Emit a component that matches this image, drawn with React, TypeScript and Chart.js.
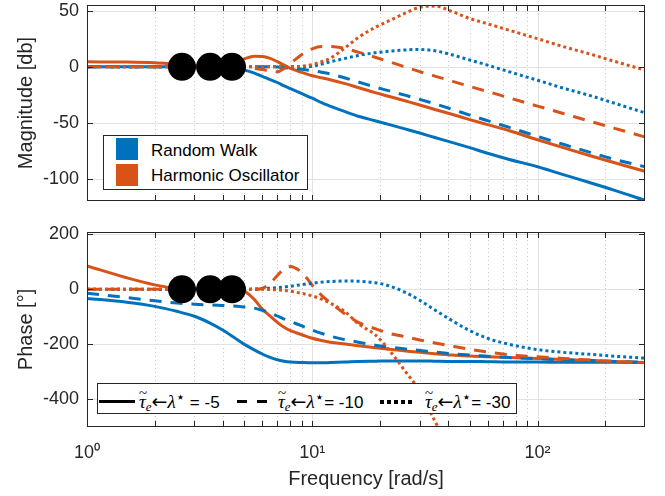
import React, { useEffect, useRef } from "react";
import { Chart, registerables } from "chart.js";

Chart.register(...registerables);

const BLUE = "#0072BD";
const ORANGE = "#D95319";
const AXIS = "#262626";
const FONT = "'Liberation Sans', Arial, Helvetica, sans-serif";

// shared frequency grid [rad/s]
const FREQ = [1, 1.5, 2, 2.5, 3, 3.5, 4, 4.5, 5, 5.5, 6, 6.5, 7, 7.5, 8, 9, 10, 11, 12, 14, 16, 19, 22, 26, 30, 35, 42, 50, 60, 75, 100, 130, 170, 220, 300];

// Magnitude [dB]
const MAG_RW_5 = [0, 0, 0, 0, -0.2, -0.5, -1, -1.8, -3, -5.5, -8.5, -11.5, -14, -17, -19.5, -24, -28, -32, -35, -40, -44, -48, -51.5, -55.5, -59, -63, -67.5, -72, -77, -82.5, -89, -96, -103, -110, -119];
const MAG_HO_5 = [4.4, 4.2, 3.5, 2.2, 1.2, 0.8, 1.5, 4, 7, 9.3, 9.2, 7.5, 4.5, 1.5, -1.5, -5, -8, -9.8, -11.5, -15, -18.5, -23, -26.5, -30.5, -34, -38, -42.5, -47, -51.5, -57, -65, -72, -79, -85.5, -93];
const MAG_RW_10 = [0, 0, 0, 0, 0, 0, 0, 0, 0, 0, 0, 0, -0.3, -0.8, -1.3, -2.3, -3.5, -4.8, -6.3, -10, -13.5, -18, -21.5, -25.5, -29, -33, -38, -43, -48, -54, -62, -69, -76, -82.5, -89];
const MAG_HO_10 = [0, 0, 0, 0, 0, 0, 0, -0.2, -0.8, -1.5, -2.5, -3.6, -4.5, -1.5, 3, 11, 16, 18, 18, 16.3, 13, 8.5, 4.4, -0.3, -4.3, -8.3, -13, -17.5, -22, -27.7, -35, -41.6, -48.4, -54.8, -62.5];
const MAG_RW_30 = [0, 0, 0, 0, 0, 0, 0, 0, 0, 0, 0, 0, 0, 0, 0, 0, 0.5, 2.5, 4.4, 7.5, 10, 12.5, 13.8, 15, 15.4, 14.2, 10.5, 6, 1.5, -4.5, -12, -19, -25.5, -32.5, -41];
const MAG_HO_30 = [0, 0, 0, 0, 0, 0, 0, 0, 0, 0, 0, 0, 0, 0, 0, 0.5, 2, 4.5, 7.5, 17, 26, 35, 41, 48, 53, 54, 49, 43, 38.3, 32.5, 25, 18, 11.5, 4.8, -3];

// Phase [deg]
const PH_RW_5 = [-33, -47, -62, -80, -98, -122, -148, -175, -200, -219, -235, -247, -256, -261, -264, -266, -267, -267, -266, -264, -262, -261, -260, -260, -260, -261, -262, -262, -263, -264, -264, -265, -265, -265, -266];
const PH_HO_5 = [85, 42, 16, 3, 0, -2, -3, -4, -8, -35, -72, -97, -120, -138, -150, -165, -178, -186, -192, -199, -205, -212, -218, -224, -229, -234, -239, -242, -245, -248, -251, -255, -258, -262, -266];
const PH_RW_10 = [-14, -30, -42, -50, -54, -57, -59, -61, -64, -68, -76, -85, -97, -108, -117, -133, -148, -160, -170, -183, -192, -203, -210, -217, -222, -228, -234, -239, -243, -248, -252, -256, -259, -262, -265];
const PH_HO_10 = [0, 0, 0, 0, 0, 0, 0, 0, 0, 0, 3, 22, 50, 74, 83, 60, 15, -22, -48, -90, -120, -143, -160, -173, -184, -195, -207, -218, -228, -238, -245, -251, -257, -262, -266];
const PH_RW_30 = [0, 0, 0, 0, 0, 0, 0, 0, 0, 1, 2, 4, 6, 8, 11, 17, 22, 26, 28, 30, 29, 24, 12, -12, -40, -75, -115, -150, -178, -200, -219, -229, -236, -243, -250];
const PH_HO_30 = [0, 0, 0, 0, 0, 0, 0, 0, 0, 0, 0, -1, -2, -4, -7, -15, -24, -36, -50, -82, -125, -165, -222, -300, -370, -478, -600, null, null, null, null, null, null, null, null];

// black markers
const MARKER_FREQ = [2.64, 3.52, 4.4];
const MARKER_VAL = [0, 0, 0];

// axes ticks
const MAG_TICKS = [-100, -50, 0, 50];
const PHASE_TICKS = [-400, -200, 0, 200];
const FREQ_MAJOR = [1, 10, 100];
const FREQ_MINOR = [2, 3, 4, 5, 6, 7, 8, 9, 20, 30, 40, 50, 60, 70, 80, 90, 200];
const SUP = ["\u2070", "\u00B9", "\u00B2", "\u00B3"];

const SOLID: number[] = [];
const DASH = [12, 9];
const DOT = [3, 3];

type Series = { label: string; values: (number | null)[]; color: string; dash: number[] };

const MAG_SERIES: Series[] = [
  { label: "HO -30", values: MAG_HO_30, color: ORANGE, dash: DOT },
  { label: "RW -30", values: MAG_RW_30, color: BLUE, dash: DOT },
  { label: "HO -10", values: MAG_HO_10, color: ORANGE, dash: DASH },
  { label: "RW -10", values: MAG_RW_10, color: BLUE, dash: DASH },
  { label: "HO -5", values: MAG_HO_5, color: ORANGE, dash: SOLID },
  { label: "RW -5", values: MAG_RW_5, color: BLUE, dash: SOLID },
];
const PH_SERIES: Series[] = [
  { label: "HO -30", values: PH_HO_30, color: ORANGE, dash: DOT },
  { label: "RW -30", values: PH_RW_30, color: BLUE, dash: DOT },
  { label: "HO -10", values: PH_HO_10, color: ORANGE, dash: DASH },
  { label: "RW -10", values: PH_RW_10, color: BLUE, dash: DASH },
  { label: "HO -5", values: PH_HO_5, color: ORANGE, dash: SOLID },
  { label: "RW -5", values: PH_RW_5, color: BLUE, dash: SOLID },
];

const TICK_LEN = 5.5;

const bodeFrame = {
  id: "bodeFrame",
  beforeDatasetsDraw(chart: any) {
    const { ctx, chartArea: a } = chart;
    const xs = chart.scales.x;
    const ys = chart.scales.y;
    ctx.save();
    ctx.lineWidth = 1;
    ctx.strokeStyle = "#c6c6c6";
    ctx.setLineDash([1, 3]);
    for (const v of FREQ_MINOR) {
      const px = Math.round(xs.getPixelForValue(v)) + 0.5;
      ctx.beginPath();
      ctx.moveTo(px, a.top);
      ctx.lineTo(px, a.bottom);
      ctx.stroke();
    }
    ctx.setLineDash([]);
    ctx.strokeStyle = "#e2e2e2";
    for (const v of FREQ_MAJOR) {
      const px = Math.round(xs.getPixelForValue(v)) + 0.5;
      ctx.beginPath();
      ctx.moveTo(px, a.top);
      ctx.lineTo(px, a.bottom);
      ctx.stroke();
    }
    for (const t of ys.ticks) {
      const py = Math.round(ys.getPixelForValue(t.value)) + 0.5;
      ctx.beginPath();
      ctx.moveTo(a.left, py);
      ctx.lineTo(a.right, py);
      ctx.stroke();
    }
    ctx.restore();
  },
  afterDatasetsDraw(chart: any) {
    const { ctx, chartArea: a } = chart;
    const xs = chart.scales.x;
    const ys = chart.scales.y;
    const l = Math.round(a.left) + 0.5;
    const r = Math.round(a.right) - 0.5;
    const t = Math.round(a.top) + 0.5;
    const b = Math.round(a.bottom) - 0.5;
    ctx.save();
    ctx.strokeStyle = AXIS;
    ctx.lineWidth = 1;
    ctx.setLineDash([]);
    ctx.beginPath();
    for (const v of [...FREQ_MAJOR, ...FREQ_MINOR]) {
      const px = Math.round(xs.getPixelForValue(v)) + 0.5;
      ctx.moveTo(px, b);
      ctx.lineTo(px, b - TICK_LEN);
      ctx.moveTo(px, t);
      ctx.lineTo(px, t + TICK_LEN);
    }
    for (const tk of ys.ticks) {
      const py = Math.round(ys.getPixelForValue(tk.value)) + 0.5;
      ctx.moveTo(l, py);
      ctx.lineTo(l + TICK_LEN, py);
      ctx.moveTo(r, py);
      ctx.lineTo(r - TICK_LEN, py);
    }
    ctx.stroke();
    ctx.strokeRect(l, t, r - l, b - t);
    ctx.restore();
  },
};

function makeConfig(series: Series[], yMin: number, yMax: number, yTicks: number[], yTitle: string, bottom: boolean): any {
  const datasets: any[] = [
    {
      label: "markers",
      data: MARKER_FREQ.map((f, i) => ({ x: f, y: MARKER_VAL[i] })),
      showLine: false,
      pointRadius: 14,
      pointHoverRadius: 14,
      pointBackgroundColor: "#000000",
      pointBorderColor: "#000000",
      pointBorderWidth: 0,
      borderColor: "#000000",
      backgroundColor: "#000000",
    },
    ...series.map((s) => ({
      label: s.label,
      data: FREQ.map((f, i) => ({ x: f, y: s.values[i] })),
      borderColor: s.color,
      backgroundColor: s.color,
      borderWidth: 3,
      borderDash: s.dash,
      borderCapStyle: "butt",
      borderJoinStyle: "round",
      pointRadius: 0,
      pointHoverRadius: 0,
      fill: false,
      cubicInterpolationMode: "monotone",
      spanGaps: false,
    })),
  ];
  return {
    type: "line",
    data: { datasets },
    options: {
      responsive: false,
      animation: false,
      events: [],
      layout: { autoPadding: false, padding: { left: 0, right: 20, top: bottom ? 18 : 5, bottom: 0 } },
      plugins: { legend: { display: false }, tooltip: { enabled: false } },
      scales: {
        x: {
          type: "logarithmic",
          min: 1,
          max: 300,
          afterBuildTicks: (s: any) => {
            s.ticks = FREQ_MAJOR.map((v) => ({ value: v }));
          },
          afterFit: (s: any) => {
            s.height = bottom ? 69 : 13;
            s.paddingLeft = 0;
            s.paddingRight = 0;
            s.paddingTop = 0;
            s.paddingBottom = 0;
          },
          grid: { display: false, drawTicks: false },
          border: { display: false },
          ticks: {
            display: bottom,
            autoSkip: false,
            maxRotation: 0,
            padding: 15,
            color: AXIS,
            font: { size: 18, family: FONT },
            callback: (v: any) => "10" + SUP[Math.round(Math.log10(Number(v)))],
          },
          title: {
            display: bottom,
            text: "Frequency [rad/s]",
            color: AXIS,
            font: { size: 20, family: FONT },
            padding: { top: 0, bottom: 4.5 },
          },
        },
        y: {
          type: "linear",
          min: yMin,
          max: yMax,
          afterBuildTicks: (s: any) => {
            s.ticks = yTicks.map((v) => ({ value: v }));
          },
          afterFit: (s: any) => {
            s.width = 87;
            s.paddingTop = 0;
            s.paddingBottom = 0;
            s.paddingLeft = 0;
            s.paddingRight = 0;
          },
          grid: { display: false, drawTicks: false },
          border: { display: false },
          ticks: { padding: 8, color: AXIS, font: { size: 18, family: FONT } },
          title: {
            display: true,
            text: yTitle,
            color: AXIS,
            font: { size: 20, family: FONT },
            padding: { top: 14.5, bottom: 0 },
          },
        },
      },
    },
    plugins: [bodeFrame],
  };
}

const serif = "'Liberation Serif', 'DejaVu Serif', serif";

function MathLabel({ rest }: { rest: string }) {
  return (
    <span style={{ whiteSpace: "nowrap" }}>
      <span style={{ position: "relative", fontFamily: serif, fontStyle: "italic", fontSize: 19 }}>
        {"\u03C4"}
        <span style={{ position: "absolute", left: 0, top: -7, fontSize: 15, fontStyle: "normal" }}>~</span>
      </span>
      <span style={{ fontFamily: serif, fontStyle: "italic", fontSize: 13, position: "relative", top: 3 }}>e</span>
      <span style={{ fontFamily: "'DejaVu Sans', sans-serif", fontSize: 19 }}>{"\u2190"}</span>
      <span style={{ fontFamily: serif, fontStyle: "italic", fontSize: 19 }}>{"\u03BB"}</span>
      <span style={{ fontFamily: "'DejaVu Sans', sans-serif", fontSize: 15, position: "relative", top: -6 }}>{"\u22C6"}</span>
      <span style={{ fontFamily: FONT, fontSize: 17 }}>{rest}</span>
    </span>
  );
}

export default function App() {
  const magRef = useRef<HTMLCanvasElement>(null);
  const phRef = useRef<HTMLCanvasElement>(null);

  useEffect(() => {
    Chart.defaults.font.family = FONT;
    Chart.defaults.color = AXIS;
    const c1 = new Chart(magRef.current as HTMLCanvasElement, makeConfig(MAG_SERIES, -119.5, 55, MAG_TICKS, "Magnitude [db]", false));
    const c2 = new Chart(phRef.current as HTMLCanvasElement, makeConfig(PH_SERIES, -500, 208, PHASE_TICKS, "Phase [\u00B0]", true));
    return () => {
      c1.destroy();
      c2.destroy();
    };
  }, []);

  const legendText: React.CSSProperties = { position: "absolute", fontFamily: FONT, fontSize: 17, lineHeight: "19px", color: "#000", whiteSpace: "nowrap" };

  return (
    <div style={{ position: "fixed", left: 0, top: 0, width: 665, height: 496, background: "#fff", overflow: "hidden" }}>
      <canvas ref={magRef} width={665} height={214} style={{ position: "absolute", left: 0, top: 0, width: 665, height: 214 }} />
      <canvas ref={phRef} width={665} height={282} style={{ position: "absolute", left: 0, top: 214, width: 665, height: 282 }} />

      <div style={{ position: "absolute", left: 103, top: 135, width: 205, height: 55, boxSizing: "border-box", border: `1px solid ${AXIS}`, background: "#fff" }}>
        <div style={{ position: "absolute", left: 12, top: 2, width: 22, height: 22, background: BLUE }} />
        <div style={{ position: "absolute", left: 12, top: 28, width: 22, height: 22, background: ORANGE }} />
        <div style={{ ...legendText, left: 47, top: 5 }}>Random Walk</div>
        <div style={{ ...legendText, left: 47, top: 30 }}>Harmonic Oscillator</div>
      </div>

      <div style={{ position: "absolute", left: 97, top: 383, width: 420, height: 31, boxSizing: "border-box", border: `1px solid ${AXIS}`, background: "#fff" }}>
        <div style={{ position: "absolute", left: 1, top: 16, width: 36, height: 3, background: "#000" }} />
        <div style={{ ...legendText, left: 41, top: 8 }}>
          <MathLabel rest=" = -5" />
        </div>
        <div style={{ position: "absolute", left: 139, top: 16, width: 10, height: 3, background: "#000" }} />
        <div style={{ position: "absolute", left: 159, top: 16, width: 10, height: 3, background: "#000" }} />
        <div style={{ ...legendText, left: 180, top: 8 }}>
          <MathLabel rest="= -10" />
        </div>
        {[0, 1, 2, 3, 4].map((i) => (
          <div key={i} style={{ position: "absolute", left: 282 + i * 7, top: 15.5, width: 4, height: 4, background: "#000" }} />
        ))}
        <div style={{ ...legendText, left: 327, top: 8 }}>
          <MathLabel rest="= -30" />
        </div>
      </div>
    </div>
  );
}
